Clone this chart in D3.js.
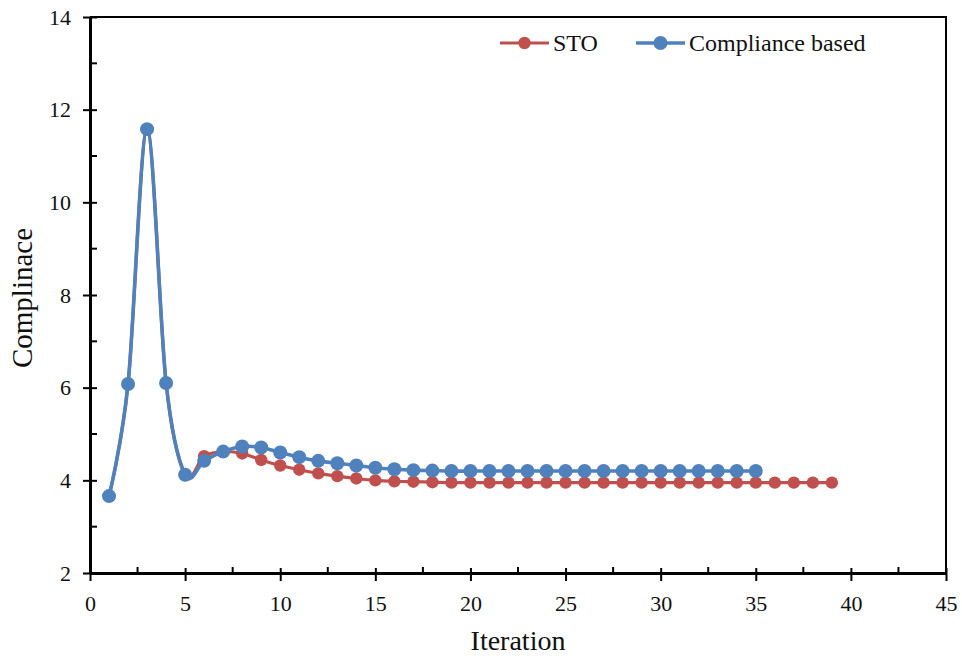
<!DOCTYPE html>
<html>
<head>
<meta charset="utf-8">
<script src="https://cdn.jsdelivr.net/npm/d3@7"></script>
<style>
  html, body { margin: 0; padding: 0; background: #fff; }
  svg { display: block; }
  text { font-family: "Liberation Serif", "Times New Roman", serif; fill: #111; }
</style>
</head>
<body>
<svg id="chart" width="962" height="658"></svg>
<script>
// Iteration history of the compliance for the two methods
const stoIter = [1,2,3,4,5,6,7,8,9,10,11,12,13,14,15,16,17,18,19,20,21,22,23,24,25,26,27,28,29,30,31,32,33,34,35,36,37,38,39];
const stoValues = [3.66,6.08,11.58,6.10,4.12,4.52,4.62,4.58,4.44,4.32,4.23,4.15,4.09,4.04,4.00,3.98,3.97,3.96,3.95,3.95,3.95,3.95,3.95,3.95,3.95,3.95,3.95,3.95,3.95,3.95,3.95,3.95,3.95,3.95,3.95,3.95,3.95,3.95,3.95];

const compIter = [1,2,3,4,5,6,7,8,9,10,11,12,13,14,15,16,17,18,19,20,21,22,23,24,25,26,27,28,29,30,31,32,33,34,35];
const compValues = [3.66,6.08,11.58,6.10,4.12,4.42,4.62,4.73,4.71,4.60,4.50,4.42,4.37,4.32,4.27,4.24,4.22,4.21,4.20,4.20,4.20,4.20,4.20,4.20,4.20,4.20,4.20,4.20,4.20,4.20,4.20,4.20,4.20,4.20,4.20];

const xTicks = [0,5,10,15,20,25,30,35,40,45];
const xMinorTicks = [2.5,7.5,12.5,17.5,22.5,27.5,32.5,37.5,42.5];
const yTicks = [2,4,6,8,10,12,14];
const yMinorTicks = [3,5,7,9,11,13];

const seriesNames = ["STO", "Compliance based"];
const seriesColors = ["#C0504D", "#4F81BD"];

const svg = d3.select("#chart");
const plotLeft = 90, plotRight = 946, plotTop = 17, plotBottom = 573;

const x = d3.scaleLinear().domain([0, 45]).range([plotLeft, plotRight]);
const y = d3.scaleLinear().domain([2, 14]).range([plotBottom, plotTop]);

// Frame (top and right edges)
svg.append("path")
  .attr("d", `M${plotLeft},${plotTop}H${plotRight}V${plotBottom}`)
  .attr("fill", "none").attr("stroke", "#000").attr("stroke-width", 2);

// X axis: major ticks cross the axis line, minor ticks sit inside
const xAxis = svg.append("g").attr("transform", `translate(0,${plotBottom})`);
xAxis.call(d3.axisBottom(x).tickValues(xTicks).tickSize(8).tickSizeOuter(0).tickPadding(14))
  .call(g => g.select(".domain").attr("stroke-width", 3))
  .call(g => g.selectAll(".tick line").attr("stroke-width", 2).attr("y1", -5))
  .call(g => g.selectAll(".tick text").attr("font-size", 22).attr("fill", "#111")
      .attr("font-family", "Liberation Serif, Times New Roman, serif"));
xAxis.selectAll(".minor").data(xMinorTicks).enter().append("line")
  .attr("class", "minor")
  .attr("x1", d => x(d)).attr("x2", d => x(d))
  .attr("y1", 0).attr("y2", -6)
  .attr("stroke", "#000").attr("stroke-width", 2);

// Y axis
const yAxis = svg.append("g").attr("transform", `translate(${plotLeft},0)`);
yAxis.call(d3.axisLeft(y).tickValues(yTicks).tickSize(7).tickSizeOuter(0).tickPadding(12))
  .call(g => g.select(".domain").attr("stroke-width", 3))
  .call(g => g.selectAll(".tick line").attr("stroke-width", 2).attr("x1", 7))
  .call(g => g.selectAll(".tick text").attr("font-size", 22).attr("fill", "#111")
      .attr("font-family", "Liberation Serif, Times New Roman, serif"));
yAxis.selectAll(".minor").data(yMinorTicks).enter().append("line")
  .attr("class", "minor")
  .attr("x1", 0).attr("x2", 7)
  .attr("y1", d => y(d)).attr("y2", d => y(d))
  .attr("stroke", "#000").attr("stroke-width", 2);

// Axis titles
svg.append("text")
  .attr("x", (plotLeft + plotRight) / 2).attr("y", 650)
  .attr("text-anchor", "middle").attr("font-size", 28)
  .text("Iteration");
svg.append("text")
  .attr("transform", `translate(32,${(plotTop + plotBottom) / 2 + 3}) rotate(-90)`)
  .attr("text-anchor", "middle").attr("font-size", 29)
  .text("Complinace");

// Series
const line = d3.line()
  .x(d => x(d[0])).y(d => y(d[1]))
  .curve(d3.curveCatmullRom.alpha(0));

const series = [
  { name: seriesNames[0], color: seriesColors[0], pts: d3.zip(stoIter, stoValues), width: 3.2, r: 6.2 },
  { name: seriesNames[1], color: seriesColors[1], pts: d3.zip(compIter, compValues), width: 3.6, r: 7 }
];

series.forEach(s => {
  const g = svg.append("g");
  g.append("path").datum(s.pts)
    .attr("d", line)
    .attr("fill", "none").attr("stroke", s.color).attr("stroke-width", s.width);
  g.selectAll("circle").data(s.pts).enter().append("circle")
    .attr("cx", d => x(d[0])).attr("cy", d => y(d[1]))
    .attr("r", s.r).attr("fill", s.color);
});

// Legend
const legendItems = [
  { name: seriesNames[0], color: seriesColors[0], x0: 500, width: 3.2, r: 6.2 },
  { name: seriesNames[1], color: seriesColors[1], x0: 636, width: 3.6, r: 7 }
];
const ly = 43;
legendItems.forEach(item => {
  const g = svg.append("g");
  g.append("line")
    .attr("x1", item.x0).attr("x2", item.x0 + 49)
    .attr("y1", ly).attr("y2", ly)
    .attr("stroke", item.color).attr("stroke-width", item.width);
  g.append("circle").attr("cx", item.x0 + 24.5).attr("cy", ly).attr("r", item.r).attr("fill", item.color);
  g.append("text")
    .attr("x", item.x0 + 53).attr("y", ly + 8)
    .attr("font-size", 24)
    .text(item.name);
});
</script>
</body>
</html>
